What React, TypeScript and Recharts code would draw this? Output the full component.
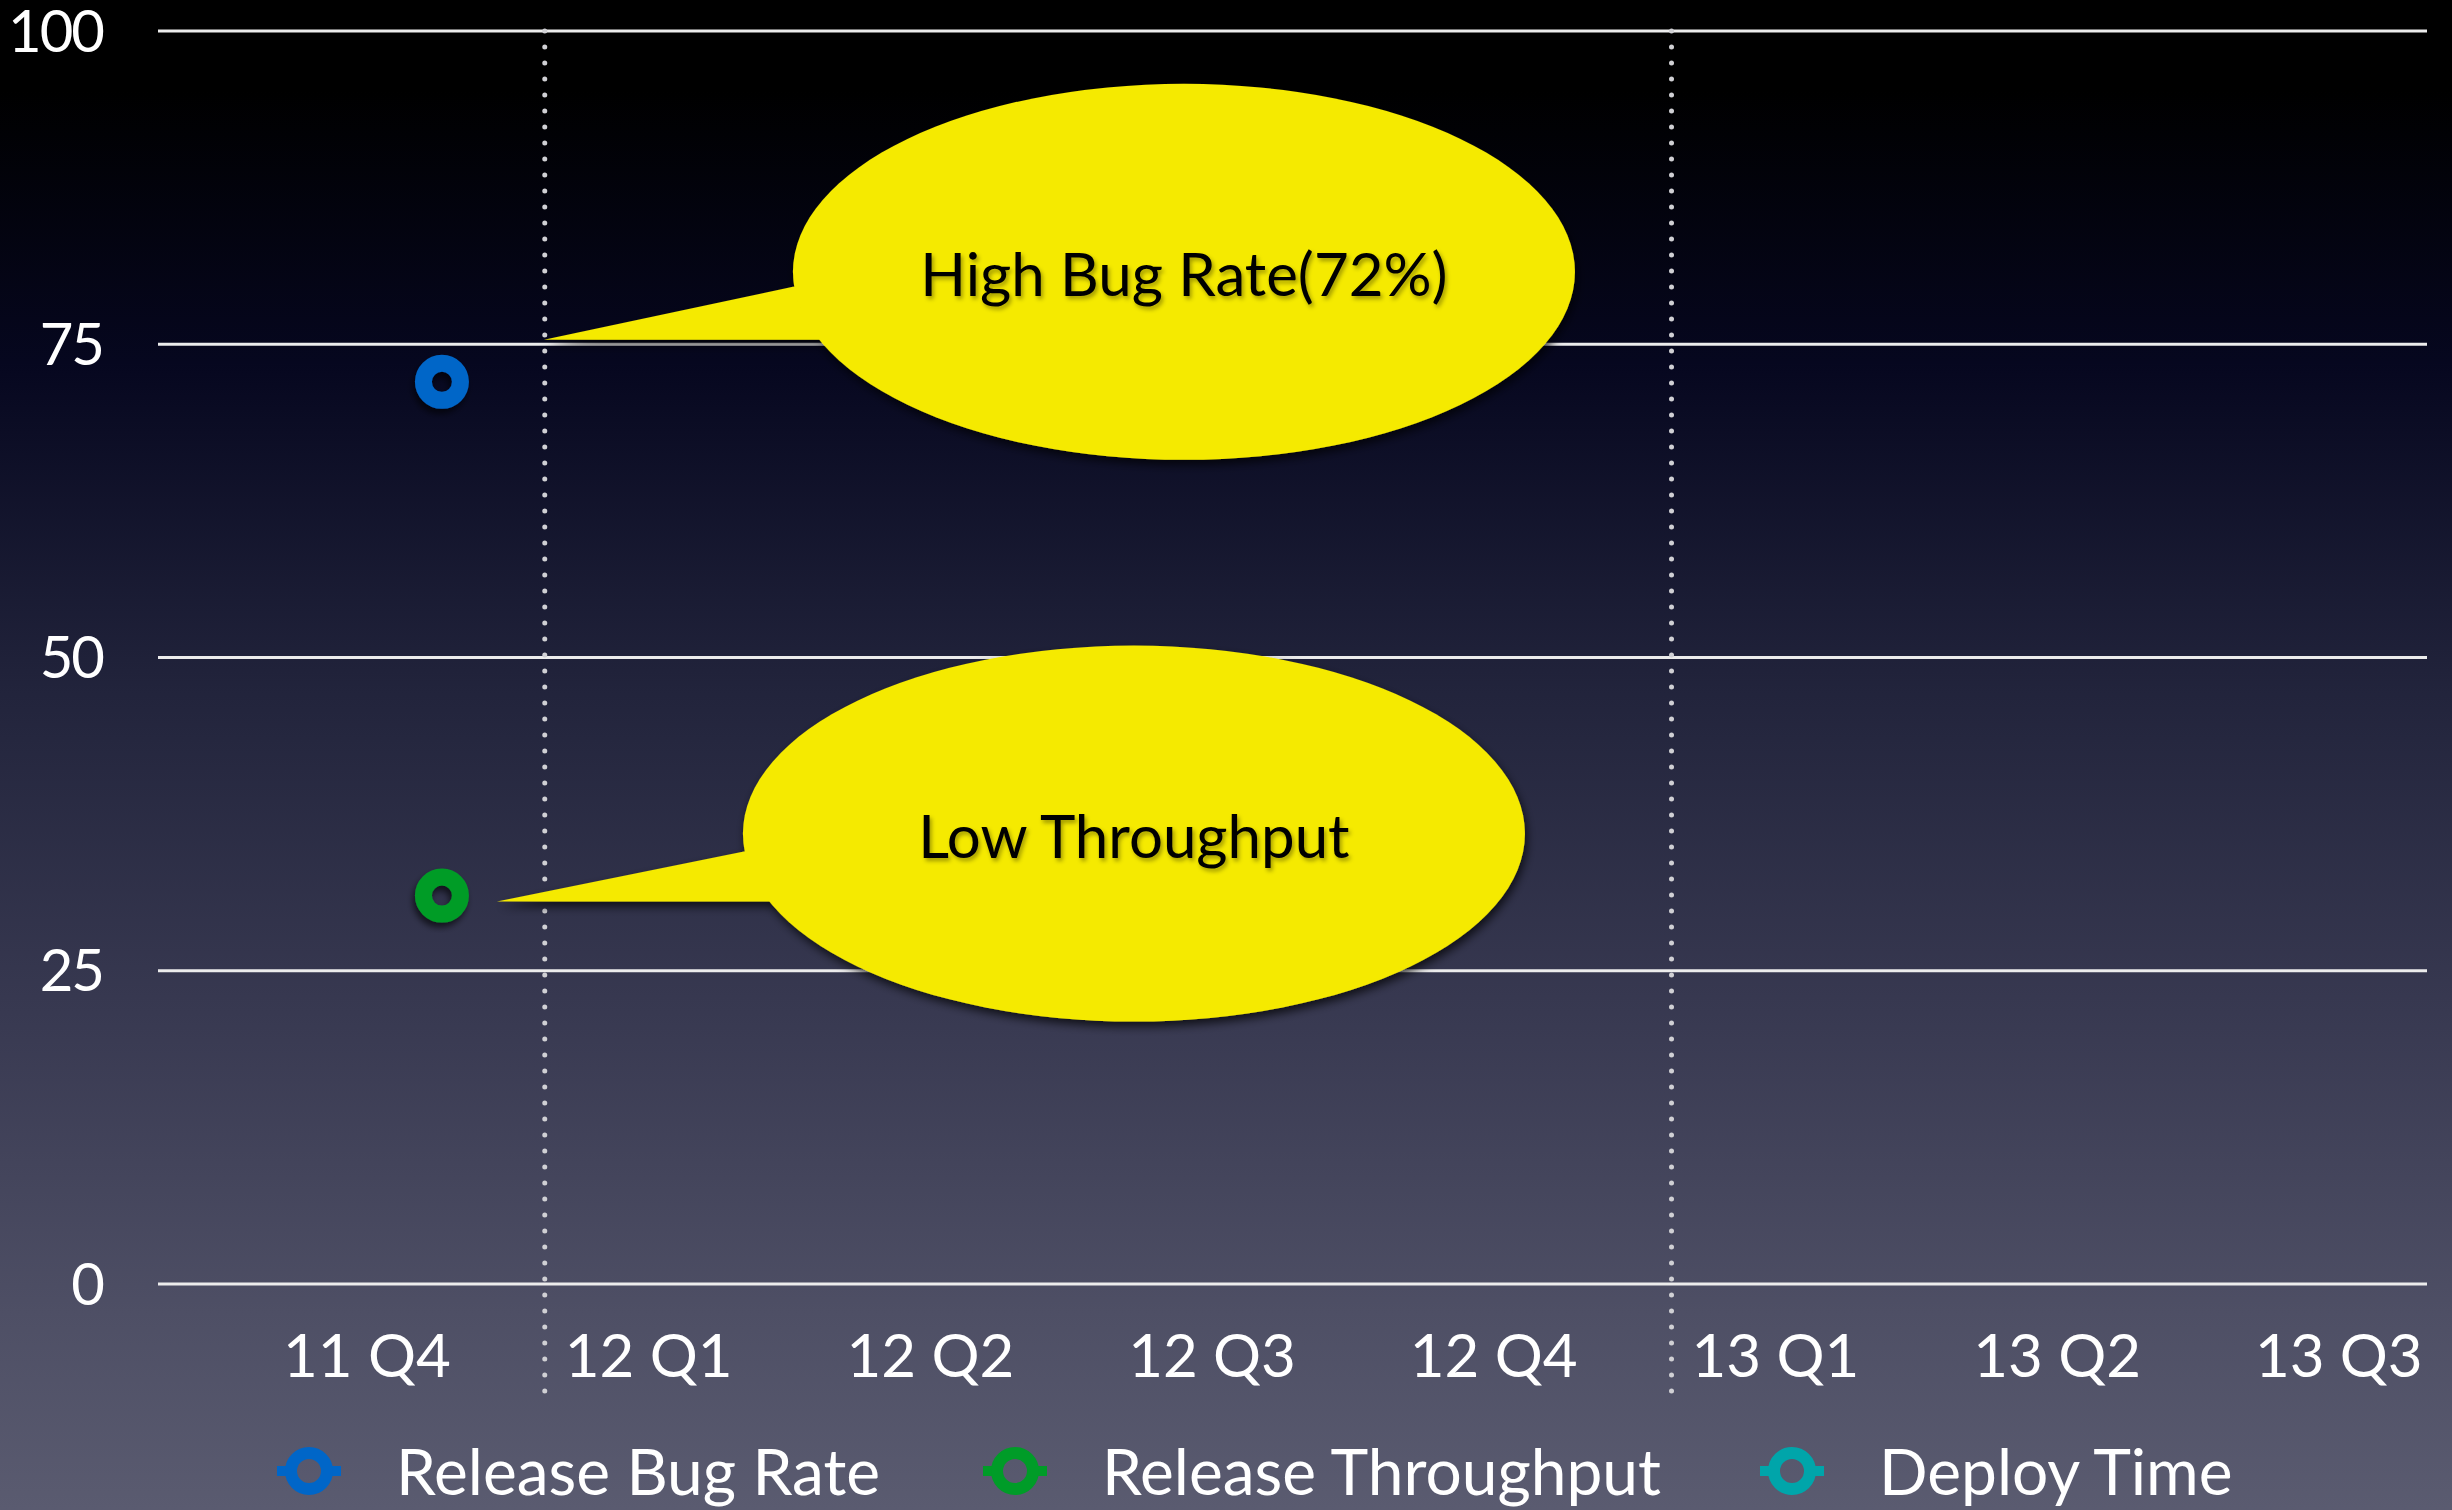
import React from 'react';
import {
  ComposedChart,
  Line,
  XAxis,
  YAxis,
  CartesianGrid,
  ReferenceLine,
  ReferenceDot,
  Legend,
} from 'recharts';

const quarters = ['11 Q4', '12 Q1', '12 Q2', '12 Q3', '12 Q4', '13 Q1', '13 Q2', '13 Q3'];
const releaseBugRate = [72, null, null, null, null, null, null, null];
const releaseThroughput = [31, null, null, null, null, null, null, null];
const deployTime = [null, null, null, null, null, null, null, null];
const yTicks = [0, 25, 50, 75, 100];
const yearStarts = ['12 Q1', '13 Q1'];

const SERIES = [
  { key: 'bugRate', name: 'Release Bug Rate', color: '#0066C8' },
  { key: 'throughput', name: 'Release Throughput', color: '#009C28' },
  { key: 'deploy', name: 'Deploy Time', color: '#00A5AA' },
];

const FONT = 'Lato, "Open Sans", sans-serif';
const YELLOW = '#F5EA00';
// points sit a bit right of the middle of each quarter, like the original slide
const MARK_OFFSET = 0.635;

const data = quarters.map((q, i) => ({
  quarter: q,
  x: i + MARK_OFFSET,
  bugRate: releaseBugRate[i],
  throughput: releaseThroughput[i],
  deploy: deployTime[i],
}));

const ringDot = (color: string) => (props: any) => {
  const { cx, cy, key } = props;
  if (!Number.isFinite(cx) || !Number.isFinite(cy)) return <g key={key} />;
  return (
    <circle
      key={key}
      cx={cx}
      cy={cy}
      r={18.5}
      fill="none"
      stroke={color}
      strokeWidth={17}
      filter="url(#markerShadow)"
    />
  );
};

const QuarterTick = ({ x, y, payload }: any) => (
  <text x={x + 20} y={y} dy="0.71em" textAnchor="start" fill="#fff" fontSize={60} fontFamily={FONT}>
    {quarters[payload.value]}
  </text>
);

const ValueTick = ({ x, y, payload }: any) => (
  <text
    x={x}
    y={y}
    dy="0.355em"
    textAnchor="end"
    fill="#fff"
    fontSize={58}
    letterSpacing={-2}
    fontFamily={FONT}
  >
    {payload.value}
  </text>
);

interface BubbleProps {
  cx: number;
  cy: number;
  text: string;
  tip: [number, number];
  base1: [number, number];
  base2: [number, number];
  center: [number, number];
}

function Bubble({ cx, cy, text, tip, base1, base2, center }: BubbleProps) {
  if (!Number.isFinite(cx) || !Number.isFinite(cy)) return <g />;
  const ex = cx + center[0];
  const ey = cy + center[1];
  return (
    <g>
      <g filter="url(#bubbleShadow)">
        <path
          d={`M${cx + tip[0]},${cy + tip[1]} L${cx + base1[0]},${cy + base1[1]} L${ex},${ey} L${cx + base2[0]},${cy + base2[1]} Z`}
          fill={YELLOW}
        />
        <ellipse cx={ex} cy={ey} rx={391} ry={188} fill={YELLOW} />
      </g>
      <text
        x={ex}
        y={ey + 3}
        dy="0.35em"
        textAnchor="middle"
        fontSize={60}
        fontFamily={FONT}
        fill="#000"
        filter="url(#textShadow)"
      >
        {text}
      </text>
    </g>
  );
}

const renderLegend = () => {
  const widths = [706, 777, 600];
  return (
    <div
      style={{
        display: 'flex',
        alignItems: 'center',
        height: 70,
        paddingLeft: 277,
        fontFamily: FONT,
        fontSize: 64,
        color: '#fff',
      }}
    >
      {SERIES.map((s, i) => (
        <div key={s.key} style={{ display: 'flex', alignItems: 'center', width: widths[i], height: 70 }}>
          <svg width={64} height={52} style={{ flex: 'none' }}>
            <rect x={0} y={21} width={12} height={10} fill={s.color} />
            <rect x={52} y={21} width={12} height={10} fill={s.color} />
            <circle cx={32} cy={26} r={18} fill="none" stroke={s.color} strokeWidth={12} />
          </svg>
          <span style={{ marginLeft: 55, lineHeight: '70px', whiteSpace: 'nowrap' }}>{s.name}</span>
        </div>
      ))}
    </div>
  );
};

export default function App() {
  return (
    <div
      style={{
        position: 'absolute',
        top: 0,
        left: 0,
        width: 2452,
        height: 1510,
        overflow: 'hidden',
        background:
          'linear-gradient(to bottom, #000000 0%, #000000 6%, #06071f 24%, #22243c 46%, #393a52 68%, #4e4f65 87%, #5a5b70 100%)',
      }}
    >
      <svg width={0} height={0} style={{ position: 'absolute' }}>
        <defs>
          <filter id="markerShadow" x="-50%" y="-50%" width="200%" height="200%">
            <feDropShadow dx={-2} dy={5} stdDeviation={3} floodColor="#000" floodOpacity={0.6} />
          </filter>
          <filter id="bubbleShadow" x="-20%" y="-20%" width="140%" height="140%">
            <feDropShadow dx={2} dy={5} stdDeviation={5} floodColor="#000" floodOpacity={0.7} />
          </filter>
          <filter id="textShadow" x="-10%" y="-30%" width="120%" height="160%">
            <feDropShadow dx={2} dy={3} stdDeviation={2} floodColor="#000" floodOpacity={0.35} />
          </filter>
        </defs>
      </svg>
      <ComposedChart
        width={2452}
        height={1510}
        data={data}
        margin={{ top: 31, right: 25, left: 0, bottom: 46 }}
      >
        <CartesianGrid vertical={false} stroke="#ececec" strokeWidth={3} />
        <XAxis
          type="number"
          dataKey="x"
          domain={[-0.373, 7.682]}
          allowDataOverflow
          ticks={quarters.map((_, i) => i)}
          interval={0}
          tick={<QuarterTick />}
          tickSize={0}
          tickMargin={50}
          axisLine={false}
          tickLine={false}
          height={110}
        />
        <YAxis
          type="number"
          domain={[0, 100]}
          ticks={yTicks}
          interval={0}
          width={158}
          tickSize={0}
          tickMargin={55}
          axisLine={false}
          tickLine={false}
          tick={<ValueTick />}
        />
        {yearStarts.map((q) => {
          const i = quarters.indexOf(q);
          return (
            <ReferenceLine
              key={q}
              segment={[
                { x: i, y: 100 },
                { x: i, y: -9.6 },
              ]}
              ifOverflow="visible"
              stroke="#d0d0d4"
              strokeWidth={5}
              strokeDasharray="0 16"
              strokeLinecap="round"
            />
          );
        })}
        {SERIES.map((s) => (
          <Line
            key={s.key}
            dataKey={s.key}
            name={s.name}
            stroke={s.color}
            strokeWidth={6}
            dot={ringDot(s.color)}
            activeDot={false}
            isAnimationActive={false}
          />
        ))}
        <ReferenceDot
          x={data[0].x}
          y={releaseBugRate[0] as number}
          ifOverflow="visible"
          shape={(p: any) => (
            <Bubble
              cx={p.cx}
              cy={p.cy}
              text="High Bug Rate(72%)"
              tip={[102, -42]}
              base1={[351, -95]}
              base2={[387, -42]}
              center={[742, -110]}
            />
          )}
        />
        <ReferenceDot
          x={data[0].x}
          y={releaseThroughput[0] as number}
          ifOverflow="visible"
          shape={(p: any) => (
            <Bubble
              cx={p.cx}
              cy={p.cy}
              text="Low Throughput"
              tip={[55, 6]}
              base1={[302, -44]}
              base2={[327, 6]}
              center={[692, -62]}
            />
          )}
        />
        <Legend verticalAlign="bottom" height={70} content={renderLegend} wrapperStyle={{ left: 0, bottom: 4, width: 2452 }} />
      </ComposedChart>
    </div>
  );
}
